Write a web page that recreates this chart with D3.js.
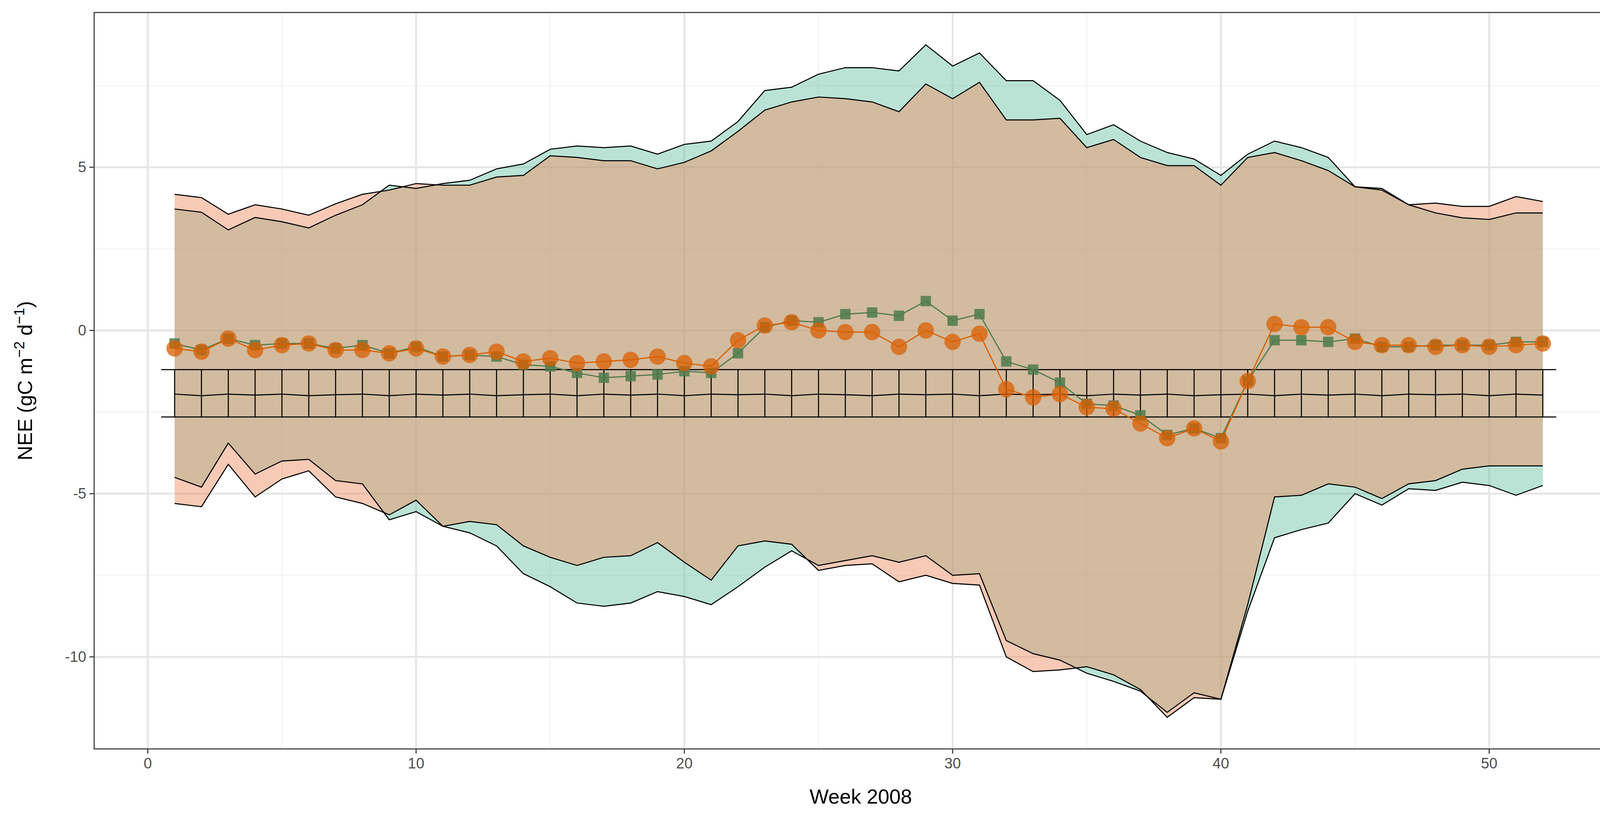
<!DOCTYPE html>
<html><head><meta charset="utf-8">
<script src="https://cdn.jsdelivr.net/npm/d3@7"></script>
<style>body{margin:0;background:#fff}text{font-family:"Liberation Sans",Arial,sans-serif}</style>
</head><body><svg id="c" width="4200" height="2100"></svg>
<script>
const weeks = d3.range(1,53);
const orangeUpper=[4.17,4.07,3.56,3.85,3.72,3.53,3.88,4.17,4.3,4.5,4.45,4.45,4.7,4.75,5.35,5.3,5.2,5.2,4.95,5.15,5.5,6.1,6.75,7.0,7.15,7.1,7.0,6.7,7.55,7.1,7.6,6.45,6.45,6.5,5.6,5.85,5.3,5.05,5.05,4.45,5.3,5.45,5.2,4.9,4.4,4.35,3.85,3.9,3.8,3.8,4.1,3.95];
const greenUpper=[3.72,3.62,3.08,3.46,3.33,3.14,3.53,3.85,4.45,4.35,4.5,4.6,4.95,5.1,5.55,5.65,5.6,5.65,5.4,5.7,5.8,6.4,7.35,7.45,7.85,8.05,8.05,7.95,8.75,8.1,8.5,7.65,7.65,7.05,6.0,6.3,5.8,5.45,5.25,4.75,5.4,5.8,5.6,5.3,4.4,4.3,3.85,3.6,3.45,3.4,3.6,3.6];
const greenLower=[-4.5,-4.8,-3.45,-4.4,-4.0,-3.95,-4.6,-4.7,-5.8,-5.55,-6.0,-6.2,-6.6,-7.45,-7.85,-8.35,-8.45,-8.35,-8.0,-8.15,-8.4,-7.85,-7.25,-6.75,-7.2,-7.05,-6.9,-7.1,-6.9,-7.5,-7.45,-9.5,-9.9,-10.1,-10.5,-10.75,-11.05,-11.7,-11.1,-11.3,-8.6,-6.35,-6.1,-5.9,-5.0,-5.35,-4.85,-4.9,-4.65,-4.75,-5.05,-4.75];
const orangeLower=[-5.3,-5.4,-4.1,-5.1,-4.55,-4.3,-5.1,-5.3,-5.65,-5.2,-6.0,-5.85,-5.95,-6.6,-6.95,-7.2,-6.95,-6.9,-6.5,-7.1,-7.65,-6.6,-6.45,-6.55,-7.35,-7.2,-7.15,-7.7,-7.5,-7.75,-7.8,-10.0,-10.45,-10.4,-10.3,-10.55,-11.0,-11.85,-11.25,-11.3,-8.4,-5.1,-5.05,-4.7,-4.8,-5.15,-4.7,-4.6,-4.25,-4.15,-4.15,-4.15];
const greenObs=[-0.4,-0.6,-0.25,-0.45,-0.4,-0.4,-0.55,-0.45,-0.7,-0.5,-0.8,-0.75,-0.8,-1.05,-1.1,-1.3,-1.45,-1.4,-1.35,-1.25,-1.3,-0.7,0.1,0.3,0.25,0.5,0.55,0.45,0.9,0.3,0.5,-0.95,-1.2,-1.6,-2.25,-2.3,-2.6,-3.2,-3.0,-3.3,-1.55,-0.3,-0.3,-0.35,-0.25,-0.5,-0.5,-0.45,-0.45,-0.45,-0.35,-0.35];
const orangeObs=[-0.55,-0.65,-0.25,-0.6,-0.45,-0.4,-0.6,-0.6,-0.7,-0.55,-0.8,-0.75,-0.65,-0.95,-0.85,-1.0,-0.95,-0.9,-0.8,-1.0,-1.1,-0.3,0.15,0.25,0.0,-0.05,-0.05,-0.5,0.0,-0.35,-0.1,-1.8,-2.05,-1.95,-2.35,-2.4,-2.85,-3.3,-3.0,-3.4,-1.55,0.2,0.1,0.1,-0.35,-0.45,-0.45,-0.5,-0.45,-0.5,-0.45,-0.4];
const errMean=[-1.95,-2.0,-1.95,-1.98,-1.95,-2.0,-1.97,-1.95,-2.0,-1.95,-1.98,-1.95,-2.0,-1.97,-1.95,-2.0,-1.95,-1.98,-1.95,-2.0,-1.95,-1.97,-1.95,-2.0,-1.95,-1.97,-2.0,-1.95,-1.97,-1.95,-2.0,-1.95,-1.97,-1.95,-2.0,-1.95,-1.98,-1.95,-2.0,-1.97,-1.95,-2.0,-1.95,-1.98,-1.95,-2.0,-1.95,-1.97,-1.95,-2.0,-1.95,-1.98];
const errHigh=-1.2, errLow=-2.65;
const xTicks=[0,10,20,30,40,50], yTicks=[-10,-5,0,5];

const svg=d3.select("#c");
const L=241,R=4166,T=32,B=1918;
const x=d3.scaleLinear().domain([-2,55.15]).range([L,R]);
const y=d3.scaleLinear().domain([-12.82,9.74]).range([B,T]);
svg.append("rect").attr("x",L).attr("y",T).attr("width",R-L).attr("height",B-T).attr("fill","#fff");
const g=svg.append("g");
[-7.5,-2.5,2.5,7.5].forEach(v=>g.append("line").attr("x1",L).attr("x2",R).attr("y1",y(v)).attr("y2",y(v)).attr("stroke","#f2f2f2").attr("stroke-width",2.7));
[5,15,25,35,45].forEach(v=>g.append("line").attr("y1",T).attr("y2",B).attr("x1",x(v)).attr("x2",x(v)).attr("stroke","#f2f2f2").attr("stroke-width",2.7));
yTicks.forEach(v=>g.append("line").attr("x1",L).attr("x2",R).attr("y1",y(v)).attr("y2",y(v)).attr("stroke","#e5e5e5").attr("stroke-width",5));
xTicks.forEach(v=>g.append("line").attr("y1",T).attr("y2",B).attr("x1",x(v)).attr("x2",x(v)).attr("stroke","#e5e5e5").attr("stroke-width",5));

function band(up,lo,fill){
  const area=d3.area().x((d,i)=>x(weeks[i])).y0((d,i)=>y(lo[i])).y1((d,i)=>y(up[i]));
  svg.append("path").datum(up).attr("d",area).attr("fill",fill).attr("fill-opacity",0.45);
}
band(greenUpper,greenLower,"#66c2a5");
band(orangeUpper,orangeLower,"#f08a5d");
const ln=d3.line().x((d,i)=>x(weeks[i])).y(d=>y(d));
[greenUpper,greenLower,orangeUpper,orangeLower].forEach(a=>svg.append("path").attr("d",ln(a)).attr("fill","none").attr("stroke","#000").attr("stroke-width",2.7));
// error bars
svg.append("path").attr("d",ln(errMean)).attr("fill","none").attr("stroke","#000").attr("stroke-width",2.7);
svg.append("line").attr("x1",x(0.5)).attr("x2",x(52.5)).attr("y1",y(errHigh)).attr("y2",y(errHigh)).attr("stroke","#000").attr("stroke-width",2.7);
svg.append("line").attr("x1",x(0.5)).attr("x2",x(52.5)).attr("y1",y(errLow)).attr("y2",y(errLow)).attr("stroke","#000").attr("stroke-width",2.7);
weeks.forEach(w=>svg.append("line").attr("x1",x(w)).attr("x2",x(w)).attr("y1",y(errHigh)).attr("y2",y(errLow)).attr("stroke","#000").attr("stroke-width",2.7));
// series
svg.append("path").attr("d",ln(greenObs)).attr("fill","none").attr("stroke","#4f7a4c").attr("stroke-width",3);
svg.selectAll(".dm").data(greenObs).enter().append("path").attr("d",d3.symbol(d3.symbolDiamond2,900)()).attr("transform",(d,i)=>`translate(${x(weeks[i])},${y(d)}) rotate(45)`).attr("fill","#4f7a4c").attr("fill-opacity",0.85);
svg.append("path").attr("d",ln(orangeObs)).attr("fill","none").attr("stroke","#d95f02").attr("stroke-width",3);
svg.selectAll(".ci").data(orangeObs).enter().append("circle").attr("cx",(d,i)=>x(weeks[i])).attr("cy",d=>y(d)).attr("r",21).attr("fill","#d95f02").attr("fill-opacity",0.75);
// border
svg.append("rect").attr("x",L).attr("y",T).attr("width",R-L).attr("height",B-T).attr("fill","none").attr("stroke","#333").attr("stroke-width",2.7);
// axes
xTicks.forEach(v=>{svg.append("line").attr("x1",x(v)).attr("x2",x(v)).attr("y1",B).attr("y2",B+12).attr("stroke","#333").attr("stroke-width",2.7);
 svg.append("text").attr("x",x(v)).attr("y",B+50).attr("text-anchor","middle").attr("font-size",38).attr("fill","#4d4d4d").text(v);});
yTicks.forEach(v=>{svg.append("line").attr("x1",L-12).attr("x2",L).attr("y1",y(v)).attr("y2",y(v)).attr("stroke","#333").attr("stroke-width",2.7);
 svg.append("text").attr("x",L-20).attr("y",y(v)+13).attr("text-anchor","end").attr("font-size",38).attr("fill","#4d4d4d").text(v);});
svg.append("text").attr("x",(L+R)/2).attr("y",2058).attr("text-anchor","middle").attr("font-size",52).text("Week 2008");
const yt=svg.append("text").attr("transform",`translate(82,${(T+B)/2}) rotate(-90)`).attr("text-anchor","middle").attr("font-size",52);
yt.append("tspan").text("NEE (gC m");
yt.append("tspan").attr("dy",-20).attr("font-size",37).text("−2");
yt.append("tspan").attr("dy",20).text(" d");
yt.append("tspan").attr("dy",-20).attr("font-size",37).text("−1");
yt.append("tspan").attr("dy",20).text(")");
</script></body></html>
